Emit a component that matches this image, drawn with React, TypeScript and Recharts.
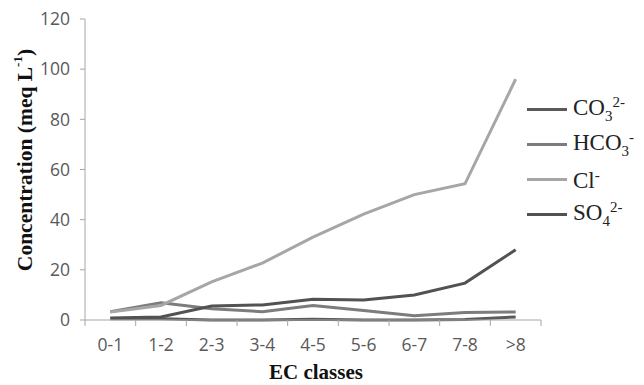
import React from 'react';
import { LineChart, Line, XAxis, YAxis } from 'recharts';

const categories = ['0-1', '1-2', '2-3', '3-4', '4-5', '5-6', '6-7', '7-8', '>8'];
const co3 = [0.5, 0.5, 0, 0, 0.3, 0, 0, 0.2, 1.2];
const hco3 = [3.3, 6.9, 4.5, 3.3, 5.8, 3.8, 1.7, 3.0, 3.2];
const cl = [3.2, 5.8, 15.2, 22.7, 33.0, 42.2, 50.0, 54.3, 96.0];
const so4 = [0.8, 1.2, 5.6, 6.0, 8.3, 8.0, 10.0, 14.7, 28.0];
const yTicks = [0, 20, 40, 60, 80, 100, 120];

const data = categories.map((c, i) => ({ cat: c, co3: co3[i], hco3: hco3[i], cl: cl[i], so4: so4[i] }));

const W = 644;
const H = 385;
const X_H = 30;
const M = { top: 19, right: 103, bottom: 65 - X_H, left: 0 };
const Y_W = 85;
const PLOT_W = W - M.left - M.right - Y_W;
const BAND = PLOT_W / categories.length;
const AXIS_COLOR = '#a6a6a6';
const TICK_COLOR = '#595959';
const TICK_FONT = '"Open Sans", sans-serif';
const SERIF = '"Liberation Serif", "Times New Roman", serif';

const colors = { co3: '#5a5a5a', hco3: '#7c7c7c', cl: '#a6a6a6', so4: '#525252' };

const XTick = (props: any) => {
  const { x, y, payload, index } = props;
  const last = index === categories.length - 1;
  return (
    <g>
      <line x1={x - BAND / 2} x2={x - BAND / 2} y1={y} y2={y + 6} stroke={AXIS_COLOR} strokeWidth={1} />
      {last && <line x1={x + BAND / 2} x2={x + BAND / 2} y1={y} y2={y + 6} stroke={AXIS_COLOR} strokeWidth={1} />}
      <text x={x} y={y + 31} textAnchor="middle" fontFamily={TICK_FONT} fontSize={17.5} fill={TICK_COLOR}>
        {payload.value}
      </text>
    </g>
  );
};

const legendItems = [
  { key: 'co3', base: 'CO', sub: '3', sup: '2-' },
  { key: 'hco3', base: 'HCO', sub: '3', sup: '-' },
  { key: 'cl', base: 'Cl', sub: '', sup: '-' },
  { key: 'so4', base: 'SO', sub: '4', sup: '2-' },
];

const LegendBox = () => (
  <div style={{ position: 'absolute', left: 527, top: 92, width: 120, fontFamily: SERIF, fontSize: 23, color: '#222' }}>
    {legendItems.map((it) => (
      <div key={it.key} style={{ display: 'flex', alignItems: 'center', height: 35 }}>
        <div style={{ width: 40, height: 3, background: (colors as any)[it.key], marginRight: 6, flex: 'none' }} />
        <span style={{ lineHeight: 1, whiteSpace: 'nowrap' }}>
          {it.base}
          {it.sub && <span style={{ fontSize: 15, verticalAlign: -6 }}>{it.sub}</span>}
          <span style={{ fontSize: 15, verticalAlign: 8 }}>{it.sup}</span>
        </span>
      </div>
    ))}
  </div>
);

export default function App() {
  return (
    <div style={{ position: 'absolute', left: 0, top: 0, width: W, height: H, background: '#fff' }}>
      <LineChart width={W} height={H} data={data} margin={M}>
        <XAxis
          dataKey="cat"
          height={X_H}
          stroke={AXIS_COLOR}
          tickLine={false}
          tickSize={0}
          tickMargin={0}
          tick={<XTick />}
          interval={0}
          padding={{ left: BAND / 2, right: BAND / 2 }}
        />
        <YAxis
          width={Y_W}
          domain={[0, 120]}
          ticks={yTicks}
          stroke={AXIS_COLOR}
          tickSize={5}
          tickMargin={10}
          tick={{ fill: TICK_COLOR, fontFamily: TICK_FONT, fontSize: 17.5 }}
          interval={0}
        />
        <Line dataKey="co3" stroke={colors.co3} strokeWidth={3} dot={false} isAnimationActive={false} />
        <Line dataKey="hco3" stroke={colors.hco3} strokeWidth={3} dot={false} isAnimationActive={false} />
        <Line dataKey="cl" stroke={colors.cl} strokeWidth={3} dot={false} isAnimationActive={false} />
        <Line dataKey="so4" stroke={colors.so4} strokeWidth={3} dot={false} isAnimationActive={false} />
        <text
          x={25}
          y={160}
          transform="rotate(-90 25 160)"
          textAnchor="middle"
          dominantBaseline="central"
          fontFamily={SERIF}
          fontWeight="bold"
          fontSize={21.5}
          fill="#111"
        >
          Concentration (meq L
          <tspan fontSize={13} dy={-8}>-1</tspan>
          <tspan dy={8}>)</tspan>
        </text>
        <text x={316} y={379} textAnchor="middle" fontFamily={SERIF} fontWeight="bold" fontSize={21} fill="#111">
          EC classes
        </text>
      </LineChart>
      <LegendBox />
    </div>
  );
}
